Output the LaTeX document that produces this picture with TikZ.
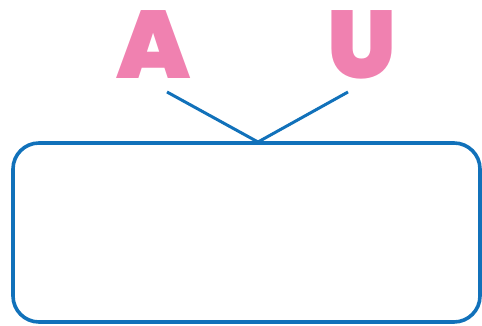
\documentclass[tikz,border=0pt]{standalone}
\usepackage{fontspec}
\newfontfamily\heavy{Poppins Black}
\definecolor{pinkA}{HTML}{F081B0}
\definecolor{blueB}{HTML}{1171BA}
\begin{document}
\begin{tikzpicture}[x=1pt,y=-1pt,
  letter/.style={text=pinkA,font=\heavy\fontsize{96}{96}\selectfont,inner sep=0pt,anchor=base},
  frame/.style={draw=blueB,line width=3.6pt,rounded corners=26pt},
  link/.style={draw=blueB,line width=3pt}]
\useasboundingbox (0,0) rectangle (482,326);
\node[letter] (A) at (154,79) {A};
\node[letter] (U) at (362,79) {U};
\draw[frame] (13,143) rectangle (480,322);
\coordinate (a1) at (167,92);
\coordinate (u1) at (348,92);
\coordinate (apex) at (258,142);
\draw[link] (a1) -- (apex) -- (u1);
\end{tikzpicture}
\end{document}
